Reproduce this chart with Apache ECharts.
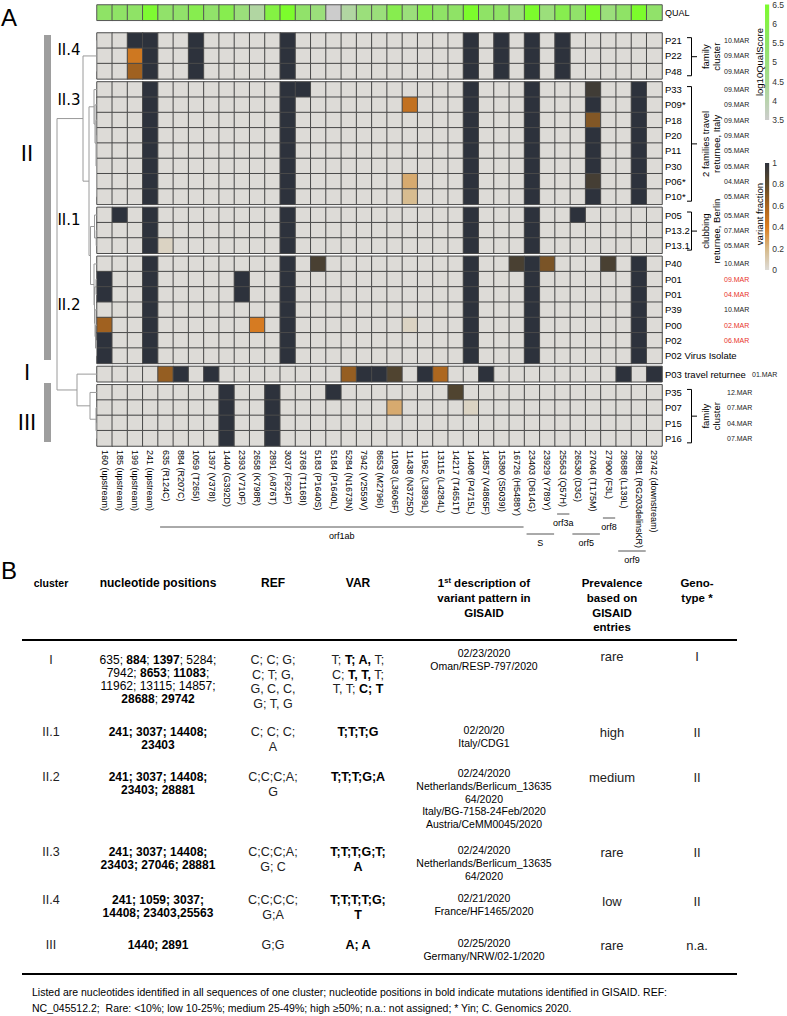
<!DOCTYPE html>
<html>
<head>
<meta charset="utf-8">
<script src="https://cdn.jsdelivr.net/npm/echarts@6.0.0/dist/echarts.min.js"></script>
<style>
html,body{margin:0;padding:0;background:#fff;}
#chart{width:787px;height:1016px;}
</style>
</head>
<body>
<div id="chart"></div>
<script>
// ================= DATA =================
const positions = ['160 (upstream)','185 (upstream)','199 (upstream)','241 (upstream)','635 (R124C)','884 (R207C)','1059 (T265I)','1397 (V378I)','1440 (G392D)','2393 (V710F)','2658 (K798R)','2891 (A876T)','3037 (F924F)','3768 (T1168I)','5183 (P1640S)','5184 (P1640L)','5284 (N1673N)','7942 (V2559V)','8653 (M2796I)','11083 (L3606F)','11438 (N3725D)','11962 (L3899L)','13115 (L4284L)','14217 (T4651T)','14408 (P4715L)','14857 (V4865F)','15380 (S5039I)','16726 (H5488Y)','23403 (D614G)','23929 (Y789Y)','25563 (Q57H)','26530 (D3G)','27046 (T175M)','27900 (F3L)','28688 (L139L)','28881 (RG203delinsKR)','29742 (downstream)'];

// log10 quality score per position
const qualScore = [5.5,5.5,5.5,6.4,5.4,5.4,5.9,5.4,5.9,5.0,4.2,6.1,6.5,5.4,5.0,3.5,4.2,5.0,5.0,5.9,5.0,5.9,5.5,5.5,6.5,5.5,5.5,5.0,6.5,5.0,5.9,5.4,6.5,5.0,5.5,6.5,5.4];

const rowNames = ['P21','P22','P48','P33','P09*','P18','P20','P11','P30','P06*','P10*','P05','P13.2','P13.1','P40','P01','P01','P39','P00','P02','P02 Virus Isolate','P03 travel returnee','P35','P07','P15','P16'];
const rowDates = ['10.MAR','09.MAR','09.MAR','09.MAR','09.MAR','09.MAR','09.MAR','05.MAR','05.MAR','04.MAR','05.MAR','05.MAR','07.MAR','05.MAR','10.MAR','09.MAR','04.MAR','10.MAR','02.MAR','06.MAR','','01.MAR','12.MAR','07.MAR','04.MAR','07.MAR'];
const redDateRows = [15,16,18,19];

// cluster blocks (rows per block, top to bottom)
const blockNames = ['II.4','II.3','II.1','II.2','I','III'];
const blockSizes = [3,8,3,7,1,4];

// variants per row: [position index, variant fraction]
const variants = [
  [[2,1],[3,1],[6,1],[12,1],[24,1],[26,1],[28,1],[30,1]],
  [[2,0.45],[3,1],[6,1],[12,1],[24,1],[26,1],[28,1],[30,1]],
  [[2,0.62],[3,1],[6,1],[12,1],[24,1],[26,1],[28,1],[30,1]],
  [[3,1],[12,1],[13,1],[24,1],[28,1],[32,0.92],[35,1]],
  [[3,1],[12,1],[20,0.5],[24,1],[28,1],[32,1],[35,1]],
  [[3,1],[12,1],[24,1],[28,1],[32,0.7],[35,1]],
  [[3,1],[12,1],[24,1],[28,1],[32,1],[35,1]],
  [[3,1],[12,1],[24,1],[28,1],[32,1],[35,1]],
  [[3,1],[12,1],[24,1],[28,1],[32,1],[35,1]],
  [[3,1],[12,1],[20,0.25],[24,1],[28,1],[32,0.9],[35,1]],
  [[3,1],[12,1],[20,0.18],[24,1],[28,1],[32,1],[35,1]],
  [[1,1],[3,1],[12,1],[24,1],[28,1],[31,1]],
  [[3,1],[12,1],[24,1],[28,1]],
  [[3,1],[4,0.05],[12,1],[24,1],[28,1]],
  [[3,1],[12,1],[14,0.88],[24,1],[27,0.88],[28,1],[29,0.72],[33,0.88],[35,1]],
  [[0,1],[3,1],[9,1],[12,1],[24,1],[28,1],[35,1]],
  [[0,1],[3,1],[9,1],[12,1],[24,1],[28,1],[35,1]],
  [[3,1],[12,1],[24,1],[28,1],[35,1]],
  [[0,0.62],[3,1],[10,0.42],[12,1],[20,0.05],[24,1],[28,1],[35,1]],
  [[0,1],[3,1],[12,1],[24,1],[28,1],[35,1]],
  [[0,1],[3,1],[12,1],[24,1],[28,1],[35,1]],
  [[4,0.65],[5,1],[7,1],[16,0.65],[17,1],[18,1],[19,0.85],[21,1],[22,0.58],[25,1],[34,1],[36,1]],
  [[8,1],[11,1],[15,1],[23,0.85]],
  [[8,1],[11,1],[19,0.25],[24,0.05]],
  [[8,1],[11,1]],
  [[8,1],[11,1]]
];

// dendrogram: [height, child, child, ...]; numbers are row indices
const dendrogram = [40,
  [14, [0.3,0,1,2],
       [8, [3,3,[2,4,[1,5,[0.5,6,7,8,9,10]]]],
           [6.5, [2.5,11,[0.8,12,13]],
                 [3,14,[2.5,[1,15,16],[2,17,[1.5,18,[0.5,19,20]]]]]]]],
  [20, 21, [7,22,[1,23,[0.5,24,25]]]]
];

// genes (position index ranges)
const genes = ['orf1ab','S','orf3a','orf5','orf8','orf9'];
const geneStart = [4,28,30,31,33,34];
const geneEnd = [27,29,30,32,33,35];

// colour scales
const qualRange = [3.5, 6.5];
const qualTicks = 0.5;
const qualColors = ['#cccccc','#a6da90','#8fe366','#7cfc2c'];
const fracRange = [0, 1];
const fracTicks = 0.2;
const fracColors = ['#dddbd7','#d6b988','#db7e22','#a8641f','#5c4a2c','#2d323c'];

// table B
const tblClusters = ['I','II.1','II.2','II.3','II.4','III'];
const tblPositions = [
  ['635; {b|884}; {b|1397}; 5284;','7942; {b|8653}; {b|11083};','11962; 13115; 14857;','{b|28688}; {b|29742}'],
  ['{b|241; 3037; 14408;}','{b|23403}'],
  ['{b|241; 3037; 14408;}','{b|23403; 28881}'],
  ['{b|241; 3037; 14408;}','{b|23403; 27046; 28881}'],
  ['{b|241; 1059; 3037;}','{b|14408; 23403,25563}'],
  ['{b|1440; 2891}']
];
const tblRef = [['C; C; G;','C; T; G,','G, C, C,','G; T, G'],['C; C; C;','A'],['C;C;C;A;','G'],['C;C;C;A;','G; C'],['C;C;C;C;','G;A'],['G;G']];
const tblVar = [['T; {b|T; A,} T;','C; {b|T, T,} T;','T, T; {b|C; T}'],['{b|T;T;T;G}'],['{b|T;T;T;G;A}'],['{b|T;T;T;G;T;}','{b|A}'],['{b|T;T;T;T;G;}','{b|T}'],['{b|A; A}']];
const tblDesc = [['02/23/2020','Oman/RESP-797/2020'],['02/20/20','Italy/CDG1'],['02/24/2020','Netherlands/Berlicum_13635','64/2020','Italy/BG-7158-24Feb/2020','Austria/CeMM0045/2020'],['02/24/2020','Netherlands/Berlicum_13635','64/2020'],['02/21/2020','France/HF1465/2020'],['02/25/2020','Germany/NRW/02-1/2020']];
const tblPrev = ['rare','high','medium','rare','low','rare'];
const tblGeno = ['I','II','II','II','II','n.a.'];
const tblFootnote = ['Listed are nucleotides identified in all sequences of one cluster; nucleotide positions in bold indicate mutations identified in GISAID. REF:',
  'NC_045512.2;  Rare: <10%; low 10-25%; medium 25-49%; high \u226550%; n.a.: not assigned; * Yin; C. Genomics 2020.'];

// ================= LAYOUT =================
const FF = '"Liberation Sans", Arial, Helvetica, sans-serif';
const DJ = '"DejaVu Sans", Verdana, sans-serif';
const GL = 97, GW = 565, TOP0 = 33, RH = 15.3, GAP = 3.04, QTOP = 5;
const nCols = positions.length;
const blockStart = []; let acc = 0; blockSizes.forEach(s => { blockStart.push(acc); acc += s; });
const nRows = acc;
const blockTop = blockSizes.map((s, b) => TOP0 + blockStart[b] * RH + b * GAP);
const blockOfRow = []; blockSizes.forEach((s, b) => { for (let i = 0; i < s; i++) blockOfRow.push(b); });
const rowCenterPx = r => TOP0 + (r + 0.5) * RH + blockOfRow[r] * GAP;
const gapUnits = GAP / RH;
const rowPos = r => r + 0.5 + blockOfRow[r] * gapUnits;
const dateOffsets = [62, 62, 62, 62, 90, 65];
const geneLineY = [527, 534, 514, 534, 518, 551];
const geneTextY = [536, 543, 523, 543, 527, 560];
const tblX = {cluster: 51, pos: 158, ref: 273, var: 358, desc: 484, prev: 612, geno: 697};
const tblRowY = [660, 732, 777, 852, 900, 945];
const tblDescY = [653, 730, 773, 850, 898, 943];
const tblPrevY = [656, 732, 777, 852, 901, 945];

// ================= BUILD =================
const grid = [], xAxis = [], yAxis = [], series = [];

// QUAL row
grid.push({left: GL, top: QTOP, width: GW, height: RH});
xAxis.push({type: 'category', gridIndex: 0, data: positions, show: false});
yAxis.push({type: 'category', gridIndex: 0, data: ['QUAL'], position: 'right',
  axisLine: {show: false}, axisTick: {show: false},
  axisLabel: {fontSize: 9, color: '#000', margin: 3, fontFamily: FF}});
series.push({type: 'heatmap', xAxisIndex: 0, yAxisIndex: 0,
  data: qualScore.map((v, i) => [i, 0, v]),
  itemStyle: {borderColor: '#555', borderWidth: 1}, emphasis: {disabled: true}});

// blocks
blockSizes.forEach((size, b) => {
  const gi = grid.length;
  grid.push({left: GL, top: blockTop[b], width: GW, height: size * RH});
  xAxis.push({type: 'category', gridIndex: gi, data: positions,
    axisLine: {show: false}, axisTick: {show: false},
    axisLabel: {show: b === blockSizes.length - 1, rotate: -90, interval: 0, fontSize: 9, color: '#000', margin: 4, fontFamily: FF}});
  const r0 = blockStart[b];
  const names = rowNames.slice(r0, r0 + size);
  const dates = rowDates.slice(r0, r0 + size);
  const yiN = yAxis.length;
  yAxis.push({type: 'category', gridIndex: gi, data: names, inverse: true, position: 'right',
    axisLine: {show: false}, axisTick: {show: false},
    axisLabel: {fontSize: 9.5, color: '#000', margin: 3, fontFamily: FF}});
  yAxis.push({type: 'category', gridIndex: gi, data: dates, inverse: true, position: 'right', offset: dateOffsets[b],
    axisLine: {show: false}, axisTick: {show: false},
    axisLabel: {fontSize: 7, color: '#222', margin: 0, fontFamily: FF,
      formatter: (v, i) => redDateRows.indexOf(r0 + i) >= 0 ? '{r|' + v + '}' : v,
      rich: {r: {color: '#e8332a', fontSize: 7, fontFamily: FF}}}});
  const data = [];
  for (let k = 0; k < size; k++) {
    const m = {}; variants[r0 + k].forEach(p => { m[p[0]] = p[1]; });
    for (let c = 0; c < nCols; c++) data.push([c, k, m[c] !== undefined ? m[c] : -1]);
  }
  series.push({type: 'heatmap', xAxisIndex: gi, yAxisIndex: yiN, data,
    itemStyle: {borderColor: '#4a4a4a', borderWidth: 1}, emphasis: {disabled: true}});
});

// colour bars
function colorBar(top, height, range, tick, colors) {
  const gi = grid.length;
  grid.push({left: 765, top, width: 7, height});
  xAxis.push({type: 'category', gridIndex: gi, data: ['bar'], show: false});
  const yi = yAxis.length;
  yAxis.push({type: 'value', gridIndex: gi, min: range[0], max: range[1], interval: tick, position: 'right',
    axisLine: {show: false}, axisTick: {show: false}, splitLine: {show: false},
    axisLabel: {fontSize: 8.5, color: '#333', margin: 3, fontFamily: FF}});
  const stops = colors.map((c, i) => ({offset: i / (colors.length - 1), color: c}));
  series.push({type: 'custom', xAxisIndex: gi, yAxisIndex: yi, silent: true,
    data: [[0, range[0], range[1]]],
    renderItem(params, api) {
      const p0 = api.coord([api.value(0), api.value(1)]);
      const p1 = api.coord([api.value(0), api.value(2)]);
      const w = api.size([1, 0])[0];
      return {type: 'rect', shape: {x: p0[0] - w / 2, y: p1[1], width: w, height: p0[1] - p1[1]},
        style: {fill: new echarts.graphic.LinearGradient(0, 1, 0, 0, stops)}};
    }});
}
colorBar(4, 116, qualRange, qualTicks, qualColors);
colorBar(163, 107, fracRange, fracTicks, fracColors);

// dendrogram
const segs = [];
(function build(node) {
  if (typeof node === 'number') return {y: rowPos(node), h: 0};
  const h = node[0];
  const kids = node.slice(1).map(build);
  const ys = kids.map(k => k.y);
  const y0 = Math.min(...ys), y1 = Math.max(...ys);
  segs.push([h, y0, h, y1]);
  kids.forEach(k => segs.push([k.h, k.y, h, k.y]));
  return {y: (y0 + y1) / 2, h};
})(dendrogram);
{
  const gi = grid.length;
  grid.push({left: 17, top: TOP0, width: GL - 17, height: nRows * RH + (blockSizes.length - 1) * GAP});
  xAxis.push({type: 'value', gridIndex: gi, min: 0, max: GL - 17, inverse: true, show: false});
  const yi = yAxis.length;
  yAxis.push({type: 'value', gridIndex: gi, min: 0, max: nRows + (blockSizes.length - 1) * gapUnits, inverse: true, show: false});
  series.push({type: 'custom', xAxisIndex: gi, yAxisIndex: yi, silent: true, data: segs,
    encode: {x: [0, 2], y: [1, 3]},
    renderItem(params, api) {
      const a = api.coord([api.value(0), api.value(1)]);
      const c = api.coord([api.value(2), api.value(3)]);
      return {type: 'line', shape: {x1: a[0], y1: a[1], x2: c[0], y2: c[1]}, style: {stroke: '#9a9a9a', lineWidth: 1}};
    }});
}

// gene annotation
{
  const gi = grid.length;
  grid.push({left: GL, top: 505, width: GW, height: 60});
  xAxis.push({type: 'value', gridIndex: gi, min: 0, max: nCols, show: false});
  const yi = yAxis.length;
  yAxis.push({type: 'value', gridIndex: gi, min: 0, max: 1, show: false});
  series.push({type: 'custom', xAxisIndex: gi, yAxisIndex: yi, silent: true,
    data: genes.map((g, i) => [geneStart[i], geneEnd[i] + 1, i]),
    renderItem(params, api) {
      const i = api.value(2);
      const x1 = api.coord([api.value(0), 0])[0] + 2;
      const x2 = api.coord([api.value(1), 0])[0] - 1;
      return {type: 'group', children: [
        {type: 'line', shape: {x1, y1: geneLineY[i], x2, y2: geneLineY[i]}, style: {stroke: '#555', lineWidth: 1}},
        {type: 'text', x: (x1 + x2) / 2, y: geneTextY[i],
          style: {text: genes[i], fontSize: 9, fontFamily: FF, fill: '#000', align: 'center', verticalAlign: 'middle', textAlign: 'center', textVerticalAlign: 'middle'}}
      ]};
    }});
}

// ================= GRAPHIC (annotations + table) =================
function T(x, y, text, size, o) {
  o = o || {};
  const st = {text, fontSize: size, fontFamily: o.ff || FF, fontWeight: o.w || 'normal', fill: o.c || '#000',
    align: o.a || 'center', verticalAlign: 'middle', textAlign: o.a || 'center', textVerticalAlign: 'middle'};
  if (o.lh) st.lineHeight = o.lh;
  if (o.rich) st.rich = o.rich;
  return {type: 'text', x, y, rotation: o.rot || 0, silent: true, z: 100, style: st};
}
function Ln(x1, y1, x2, y2, w, c) {
  return {type: 'line', silent: true, shape: {x1, y1, x2, y2}, style: {stroke: c || '#000', lineWidth: w || 1}};
}
const G = [];
// panel letters
G.push(T(9, 17, 'A', 24));
G.push(T(9, 570, 'B', 24));
// cluster bars and labels
G.push({type: 'rect', silent: true, shape: {x: 44, y: 35, width: 7, height: 325}, style: {fill: '#9e9e9e'}});
G.push({type: 'rect', silent: true, shape: {x: 44, y: 383, width: 7, height: 59}, style: {fill: '#9e9e9e'}});
G.push(T(27, 154, 'II', 21, {ff: DJ}));
G.push(T(27, 373, 'I', 21, {ff: DJ}));
G.push(T(27, 423, 'III', 21, {ff: DJ}));
G.push(T(69, 50, 'II.4', 15, {ff: DJ}));
G.push(T(69, 100, 'II.3', 15, {ff: DJ}));
G.push(T(69, 220, 'II.1', 15, {ff: DJ}));
G.push(T(69, 305, 'II.2', 15, {ff: DJ}));
// brackets + group labels
[[0, 'family\ncluster'], [1, '2 families travel\nreturnee, Italy'], [2, 'clubbing\nreturnee, Berlin'], [5, 'family\ncluster']].forEach(([b, label]) => {
  const r0 = blockStart[b], r1 = r0 + blockSizes[b] - 1;
  const ya = rowCenterPx(r0) - 3, yb = rowCenterPx(r1) + 4.5, ym = (ya + yb) / 2;
  G.push({type: 'polyline', silent: true, shape: {points: [[687, ya], [691.5, ya], [691.5, yb], [687, yb]]}, style: {stroke: '#000', lineWidth: 1, fill: null}});
  G.push(Ln(691.5, ym, 697, ym, 1));
  G.push(T(711, ym, label, 9.5, {rot: Math.PI / 2, lh: 11}));
});
// colour bar titles
G.push(T(759, 62, 'log10QualScore', 9.5, {rot: Math.PI / 2}));
G.push(T(759, 214, 'variant fraction', 9.5, {rot: Math.PI / 2}));

// table header
const bold = s => ({b: {fontWeight: 'bold', fontSize: s, fontFamily: FF, fill: '#000'}});
G.push(T(tblX.cluster, 583, 'cluster', 10.5, {w: 'bold'}));
G.push(T(tblX.pos, 583, 'nucleotide positions', 12, {w: 'bold'}));
G.push(T(tblX.ref, 583, 'REF', 12, {w: 'bold'}));
G.push(T(tblX.var, 583, 'VAR', 12, {w: 'bold'}));
G.push(T(tblX.desc, 583, '1{sup|st} description of', 11.5, {w: 'bold',
  rich: {sup: {fontSize: 7.5, fontWeight: 'bold', fontFamily: FF, fill: '#000', padding: [0, 0, 6, 0]}}}));
G.push(T(tblX.desc, 598, 'variant pattern in', 11.5, {w: 'bold'}));
G.push(T(tblX.desc, 613, 'GISAID', 11.5, {w: 'bold'}));
['Prevalence', 'based on', 'GISAID', 'entries'].forEach((s, i) => G.push(T(tblX.prev, 583 + i * 14.8, s, 11.5, {w: 'bold'})));
['Geno-', 'type *'].forEach((s, i) => G.push(T(tblX.geno, 583 + i * 14.8, s, 11.5, {w: 'bold'})));
G.push(Ln(22, 640, 737, 640, 2));
// table rows
tblClusters.forEach((cl, r) => {
  const y = tblRowY[r];
  G.push(T(tblX.cluster, y, cl, 12.5, {c: '#222'}));
  tblPositions[r].forEach((s, i) => G.push(T(tblX.pos, y + i * 13, s, 12, {rich: bold(12)})));
  tblRef[r].forEach((s, i) => G.push(T(tblX.ref, y + i * 14.6, s, 12.5, {c: '#222'})));
  tblVar[r].forEach((s, i) => G.push(T(tblX.var, y + i * 14.6, s, 12.5, {rich: bold(12.5), c: '#222'})));
  tblDesc[r].forEach((s, i) => G.push(T(tblX.desc, tblDescY[r] + i * 12.8, s, 10.5)));
  G.push(T(tblX.prev, tblPrevY[r], tblPrev[r], 13, {c: '#222'}));
  G.push(T(tblX.geno, tblPrevY[r], tblGeno[r], 13, {c: '#222'}));
});
G.push(Ln(22, 974, 737, 974, 2));
tblFootnote.forEach((s, i) => G.push(T(32, 992 + i * 16, s, 10.5, {a: 'left'})));

const option = {
  animation: false,
  backgroundColor: '#fff',
  grid, xAxis, yAxis, series,
  visualMap: [
    {type: 'continuous', show: false, seriesIndex: 0, min: qualRange[0], max: qualRange[1], inRange: {color: qualColors}},
    {type: 'continuous', show: false, seriesIndex: [1, 2, 3, 4, 5, 6], min: fracRange[0], max: fracRange[1],
      inRange: {color: fracColors}, outOfRange: {color: ['#c8c8c8']}}
  ],
  graphic: G
};
const chart = echarts.init(document.getElementById('chart'), null, {renderer: 'svg', width: 787, height: 1016});
chart.setOption(option);
</script>
</body>
</html>
